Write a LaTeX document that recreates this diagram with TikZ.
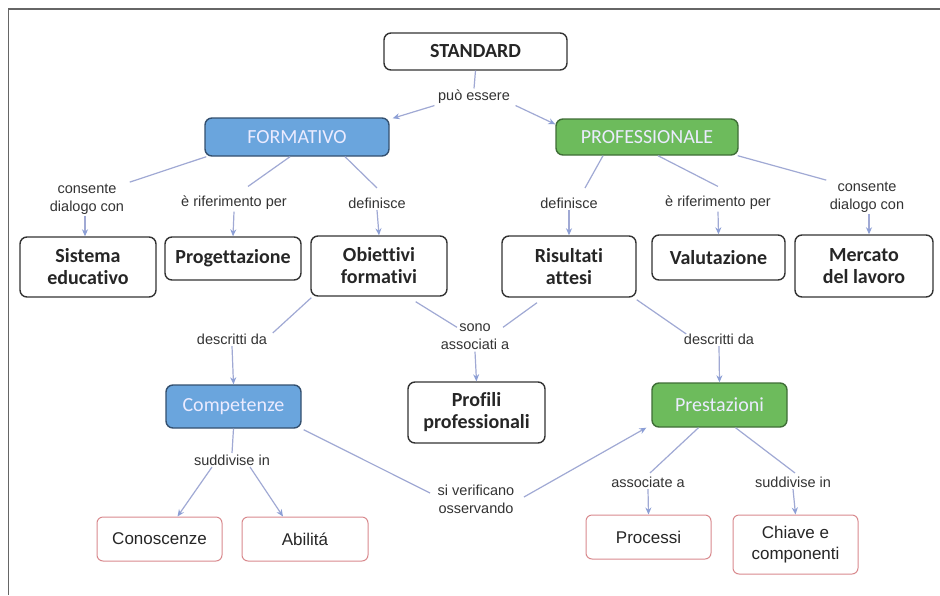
\documentclass[tikz,border=0pt]{standalone}
\usepackage{fontspec}
\setmainfont{Liberation Sans}
\newfontfamily\carfont[Ligatures=NoCommon]{Carlito}
\usetikzlibrary{arrows.meta,calc}
\definecolor{ln}{HTML}{A0A9D4}
\definecolor{arr}{HTML}{8C9FD6}
\definecolor{bord}{HTML}{333333}
\definecolor{txt}{HTML}{262626}
\definecolor{labtxt}{HTML}{333333}
\definecolor{bluef}{HTML}{6AA5DD}
\definecolor{blued}{HTML}{34506F}
\definecolor{greenf}{HTML}{6DBB5C}
\definecolor{greend}{HTML}{3F6E37}
\definecolor{redb}{HTML}{D98A8E}
\definecolor{frame}{HTML}{666666}
\begin{document}
\begin{tikzpicture}[x=1pt,y=-1pt,
  bbox/.style={draw=bord, line width=1.4pt, rounded corners=7pt, fill=white, text=txt,
    font=\carfont\bfseries\fontsize{20}{22}\selectfont, align=center, inner sep=0pt},
  cbox/.style={line width=1.4pt, rounded corners=7pt, text=white!92!blue,
    font=\carfont\fontsize{20}{22}\selectfont, align=center, inner sep=0pt},
  bluebox/.style={cbox, fill=bluef, draw=blued},
  greenbox/.style={cbox, fill=greenf, draw=greend},
  redbox/.style={draw=redb, line width=1pt, rounded corners=6pt, fill=white, text=txt,
    font=\fontsize{17}{21}\selectfont, align=center, inner sep=0pt},
  lab/.style={text=labtxt, font=\fontsize{14.5}{18}\selectfont, align=center, inner sep=1.5pt},
  conn/.style={draw=ln, line width=1.2pt},
  arrw/.style={draw=ln, line width=1.2pt, -{Stealth[length=7pt,width=6pt,color=arr]}}
]
\fill[white] (0,0) rectangle (940,595);
\useasboundingbox (0,0) rectangle (940,595);
% frame
\draw[frame, line width=1.6pt] (8.5,595) -- (8.5,9) -- (940,9);

% nodes
\node[bbox, minimum width=183pt, minimum height=37pt] (std) at (475.5,51.5) {STANDARD};
\node[bluebox, minimum width=184pt, minimum height=38pt] (form) at (297,137) {FORMATIVO};
\node[greenbox, minimum width=182pt, minimum height=36pt] (prof) at (647,137) {PROFESSIONALE};

\node[bbox, minimum width=136pt, minimum height=60pt] (sis) at (88,267) {Sistema\\educativo};
\node[bbox, minimum width=136pt, minimum height=43pt] (prog) at (233,258.5) {Progettazione};
\node[bbox, minimum width=136pt, minimum height=60pt] (obi) at (379,266) {Obiettivi\\formativi};
\node[bbox, minimum width=134pt, minimum height=61pt] (ris) at (569,266.5) {Risultati\\attesi};
\node[bbox, minimum width=133pt, minimum height=45pt] (val) at (718.5,257.5) {Valutazione};
\node[bbox, minimum width=138pt, minimum height=62pt] (mer) at (864,266) {Mercato\\del lavoro};

\node[bluebox, minimum width=135pt, minimum height=43pt] (comp) at (233.5,406.5) {Competenze};
\node[bbox, minimum width=137pt, minimum height=61pt] (prof2) at (476.5,412.5) {Profili\\professionali};
\node[greenbox, minimum width=135pt, minimum height=44pt] (pres) at (719.5,405) {Prestazioni};

\node[redbox, minimum width=125pt, minimum height=44pt] (con) at (159.5,539) {Conoscenze};
\node[redbox, minimum width=126pt, minimum height=44pt] (abi) at (305,539) {Abilitá};
\node[redbox, minimum width=125pt, minimum height=44pt] (proc) at (648.5,537) {Processi};
\node[redbox, minimum width=125pt, minimum height=59pt] (chi) at (795.5,544.5) {Chiave e\\componenti};

% labels
\node[lab] (lpuo) at (474,97) {può essere};
\node[lab] (lcons1) at (87,199) {consente\\dialogo con};
\node[lab] (lrif1) at (234,203) {è riferimento per};
\node[lab] (ldef1) at (377,203) {definisce};
\node[lab] (ldef2) at (569,203) {definisce};
\node[lab] (lrif2) at (718,203) {è riferimento per};
\node[lab] (lcons2) at (867,197) {consente\\dialogo con};
\node[lab] (ldesc1) at (232,339) {descritti da};
\node[lab] (lsono) at (475,337) {sono\\associati a};
\node[lab] (ldesc2) at (719,339) {descritti da};
\node[lab] (lsudd1) at (232,460) {suddivise in};
\node[lab] (lsi) at (476,499) {si verificano\\osservando};
\node[lab] (lass) at (648,482) {associate a};
\node[lab] (lsudd2) at (793,482) {suddivise in};

% connectors
\draw[conn] (std.south) -- (lpuo.north);
\draw[arrw] ([xshift=-2pt]lpuo.south west) -- ([xshift=3pt,yshift=-1pt]form.north east);
\draw[arrw] ([xshift=4pt]lpuo.south east) -- ([yshift=-6pt]prof.north west);

\draw[conn] ([xshift=2pt]form.south west) -- ([xshift=4pt]lcons1.north east);
\draw[conn] ([xshift=-7pt]form.south) -- ([xshift=14pt,yshift=8pt]lrif1.north);
\draw[conn] ([xshift=48pt]form.south) -- ([yshift=8pt]ldef1.north);
\draw[arrw] ([xshift=-2pt]lcons1.south) -- ([xshift=-3pt]sis.north);
\draw[arrw] (lrif1.south) -- (prog.north);
\draw[arrw] (ldef1.south) -- (obi.north);

\draw[conn] ([xshift=-44pt]prof.south) -- ([xshift=16pt,yshift=8pt]ldef2.north);
\draw[conn] ([xshift=11pt]prof.south) -- ([yshift=8pt]lrif2.north);
\draw[conn] ([xshift=-1pt]prof.south east) -- ([xshift=-2pt]lcons2.north west);
\draw[arrw] (ldef2.south) -- (ris.north);
\draw[arrw] (lrif2.south) -- (val.north);
\draw[arrw] ([xshift=2pt]lcons2.south) -- ([xshift=5pt]mer.north);

\draw[conn] ([xshift=1pt,yshift=-1pt]obi.south west) -- ([xshift=4pt,yshift=-1pt]ldesc1.north east);
\draw[conn] ([xshift=-32pt,yshift=-5pt]obi.south east) -- ([xshift=-18pt,yshift=-5pt]lsono.north);
\draw[conn] ([xshift=-32pt,yshift=-5pt]ris.south) -- ([xshift=28pt,yshift=-5pt]lsono.north);
\draw[conn] ([yshift=-2pt]ris.south east) -- ([xshift=4pt,yshift=-2pt]ldesc2.north west);
\draw[arrw] (ldesc1.south) -- (comp.north);
\draw[arrw] (lsono.south) -- (prof2.north);
\draw[arrw] (ldesc2.south) -- (pres.north);

\draw[conn] (comp.south) -- (lsudd1.north);
\draw[arrw] ([xshift=-20pt]lsudd1.south) -- ([xshift=18pt]con.north);
\draw[arrw] ([xshift=18pt]lsudd1.south) -- ([xshift=-22pt]abi.north);
\draw[conn] ([xshift=2pt,yshift=-1pt]comp.south east) -- ([xshift=-6pt,yshift=6pt]lsi.west);
\draw[arrw] ([xshift=8pt,yshift=2pt]lsi.east) -- ([xshift=-5pt]pres.south west);

\draw[conn] ([xshift=-21pt]pres.south) -- ([xshift=2pt,yshift=2pt]lass.north);
\draw[conn] ([xshift=16pt]pres.south) -- ([xshift=2pt,yshift=2pt]lsudd2.north);
\draw[arrw] (lass.south) -- (proc.north);
\draw[arrw] (lsudd2.south) -- (chi.north);
\end{tikzpicture}
\end{document}
